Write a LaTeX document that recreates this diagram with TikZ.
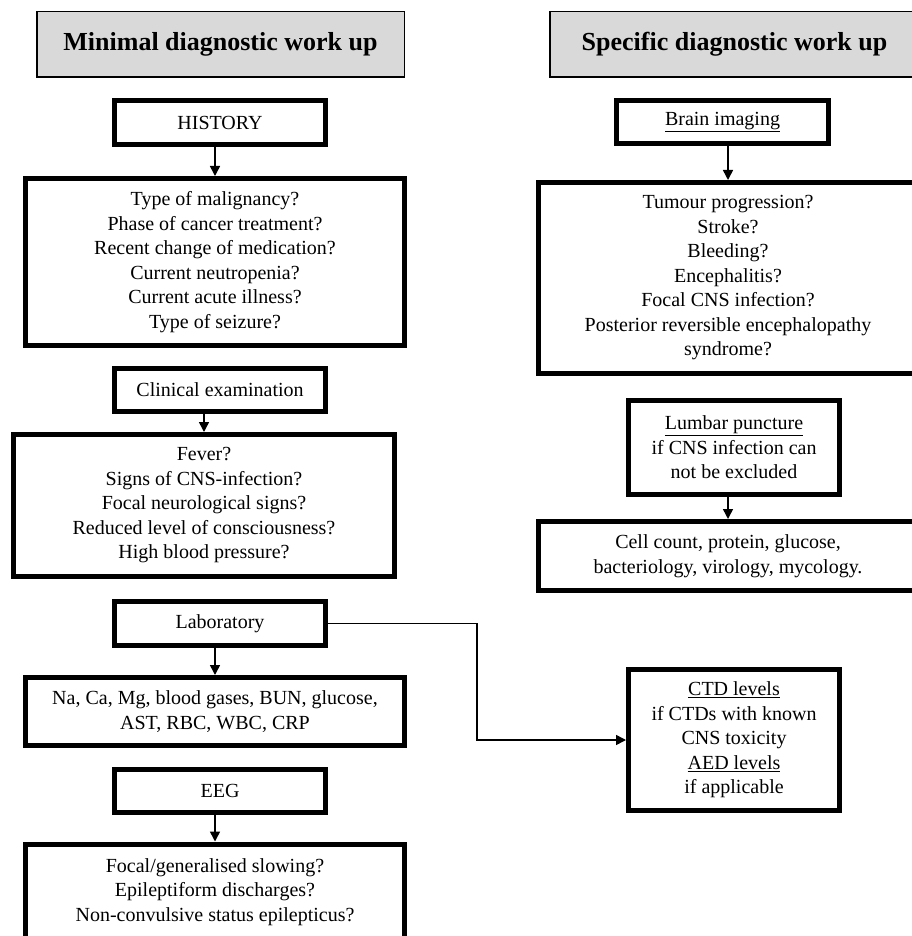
\documentclass[tikz,border=0pt]{standalone}
\usepackage{fontspec}
\setmainfont{Liberation Serif}
\usetikzlibrary{arrows.meta}
\begin{document}
\begin{tikzpicture}[x=1pt, y=-1pt,
  every node/.style = {shape=rectangle, align=center, inner sep=0pt,
    font=\fontsize{20}{24.5}\selectfont},
  headbox/.style = {draw, line width=1.5pt, fill=black!15,
    minimum height=65.5pt, font=\fontsize{26}{30}\selectfont\bfseries},
  stepbox/.style = {draw, line width=5pt, minimum width=211pt},
  askbox/.style = {draw, line width=5pt, minimum width=379pt},
  link/.style = {line width=1.5pt, -{Triangle[length=10pt,width=10pt]}}]
  \useasboundingbox (0,0) rectangle (911,936);
  \node[headbox, minimum width=367.5pt] (minimal) at (220.5,44.5) {Minimal diagnostic work up};
  \node[headbox, minimum width=369.5pt] (specific) at (734.5,44.5) {Specific diagnostic work up};
  \node[stepbox, minimum height=44pt] (history) at (220,122.5) {HISTORY};
  \node[askbox, minimum height=167pt] (historyq) at (215,262) {Type of malignancy?\\Phase of cancer treatment?\\Recent change of medication?\\Current neutropenia?\\Current acute illness?\\Type of seizure?};
  \node[stepbox, minimum height=43pt] (clinical) at (220,390) {Clinical examination};
  \node[askbox, minimum width=381pt, minimum height=142pt] (clinicalq) at (204,505.5) {Fever?\\Signs of CNS-infection?\\Focal neurological signs?\\Reduced level of consciousness?\\High blood pressure?};
  \node[stepbox, minimum height=44pt] (lab) at (220,623.5) {Laboratory};
  \node[askbox, minimum height=68pt] (labq) at (215,711.5) {Na, Ca, Mg, blood gases, BUN, glucose,\\AST, RBC, WBC, CRP};
  \node[stepbox, minimum height=43pt] (eeg) at (220,791) {EEG};
  \node[askbox, minimum height=96pt] (eegq) at (215,892) {Focal/generalised slowing?\\Epileptiform discharges?\\Non-convulsive status epilepticus?};
  \node[stepbox, minimum width=212pt, minimum height=43pt] (imaging) at (722.5,122) {\underline{Brain imaging}};
  \node[askbox, minimum height=191pt] (imagingq) at (728,278) {Tumour progression?\\Stroke?\\Bleeding?\\Encephalitis?\\Focal CNS infection?\\Posterior reversible encephalopathy\\syndrome?};
  \node[stepbox, minimum height=94pt] (lumbar) at (734,447.5) {\underline{Lumbar puncture}\\if CNS infection can\\not be excluded};
  \node[askbox, minimum height=69pt] (lumbarq) at (728,556) {Cell count, protein, glucose,\\bacteriology, virology, mycology.};
  \node[stepbox, minimum height=141pt] (levels) at (734,740) {\underline{CTD levels}\\if CTDs with known\\CNS toxicity\\\underline{AED levels}\\if applicable};
  \coordinate (turn) at (477,623.5);
  \draw[link] (historyq.north |- history.south) -- (historyq.north);
  \draw[link] (clinicalq.north |- clinical.south) -- (clinicalq.north);
  \draw[link] (labq.north |- lab.south) -- (labq.north);
  \draw[link] (eegq.north |- eeg.south) -- (eegq.north);
  \draw[link] (imagingq.north |- imaging.south) -- (imagingq.north);
  \draw[link] (lumbarq.north |- lumbar.south) -- (lumbarq.north);
  \draw[link] (lab.east) -- (turn) |- (levels.west);
\end{tikzpicture}
\end{document}
